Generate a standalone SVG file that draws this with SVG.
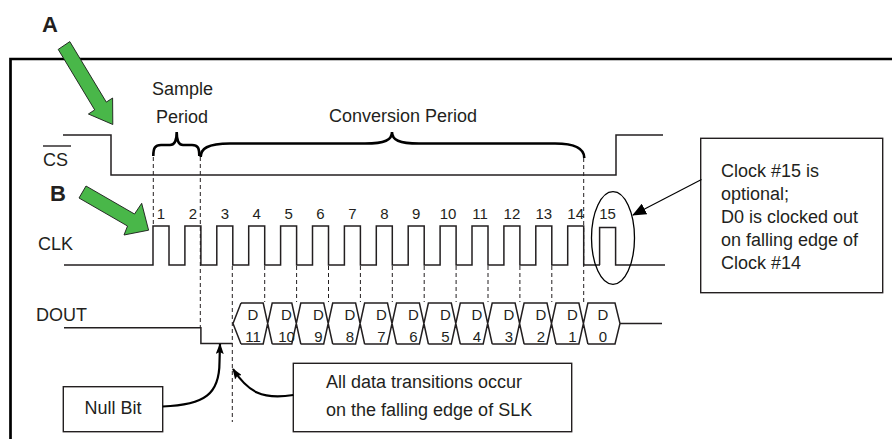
<svg xmlns="http://www.w3.org/2000/svg" width="892" height="439" viewBox="0 0 892 439">
<defs>
<style>
.t{font-family:"Liberation Sans",Arial,sans-serif;fill:#231f20}
.lab{font-size:18px}
.num{font-size:15px;text-anchor:middle}
.cell{font-size:15px;text-anchor:middle}
.big{font-size:22px;font-weight:bold}
.sig{fill:none;stroke:#231f20;stroke-width:1.5}
.dash{fill:none;stroke:#231f20;stroke-width:1;stroke-dasharray:4,3}
.box{fill:#fff;stroke:#231f20;stroke-width:1.4}
.brace{fill:none;stroke:#000;stroke-width:2.6}
.green{fill:#49b749;stroke:#1a1a1a;stroke-width:0.9}
</style>
<marker id="ah" markerUnits="userSpaceOnUse" markerWidth="11" markerHeight="8" refX="10" refY="4" orient="auto">
<path d="M0,0 L11,4 L0,8 L2,4 z" fill="#000"/>
</marker>
<marker id="tri" markerUnits="userSpaceOnUse" markerWidth="14" markerHeight="12" refX="13" refY="6" orient="auto">
<path d="M0,0 L14,6 L0,12 z" fill="#000"/>
</marker>
</defs>
<rect width="892" height="439" fill="#fff"/>

<!-- frame -->
<path d="M10.5,439 V59 H892" fill="none" stroke="#000" stroke-width="2.7"/>

<!-- labels A and B with green arrows -->
<g id="labelA">
<text class="t big" x="42" y="32">A</text>
<polygon class="green" points="58.2,49.4 69.8,41.6 106.3,102.1 112.6,98 112.8,124.5 88.4,114 94.7,109.9"/>
</g>
<g id="labelB">
<text class="t big" x="50" y="201">B</text>
<polygon class="green" points="79,198 86,186 134.5,214 141.7,203.3 148.6,230.2 124,235 127.5,226"/>
</g>

<!-- signal names -->
<g id="cs-label">
<text class="t lab" x="43" y="166">CS</text>
<line x1="43" y1="146" x2="71" y2="146" stroke="#231f20" stroke-width="1.4"/>
</g>
<g id="clk-label"><text class="t lab" x="38" y="250">CLK</text></g>
<g id="dout-label"><text class="t lab" x="36" y="321">DOUT</text></g>

<!-- period annotations -->
<g id="sample-period">
<text class="t lab" x="182.5" y="95" text-anchor="middle">Sample</text>
<text class="t lab" x="182" y="123" text-anchor="middle">Period</text>
<path class="brace" d="M153.3,156 C153.3,148 155,145 161,145 H170 C175,145 176.7,140 176.7,132 C176.7,140 178.5,145 183,145 H192 C198,145 199.3,148 199.3,156"/>
</g>
<g id="conversion-period">
<text class="t lab" x="403" y="122" text-anchor="middle">Conversion Period</text>
<path class="brace" d="M200.7,157 C200.7,149 207,143.5 230,143.5 H365 C385,143.5 392,140 392,132 C392,140 399,143.5 419,143.5 H555 C575,143.5 584.3,149 584.3,158"/>
</g>

<!-- CS waveform -->
<g id="cs-wave">
<path class="sig" d="M63,135 H111 V175 H616 V135 H663"/>
</g>

<!-- CLK waveform -->
<g id="clk-wave">
<path class="sig" d="M64,265 H153 V226 H169 V265 H184.9 V226 H200.9 V265 H216.8 V226 H232.8 V265 H248.7 V226 H264.7 V265 H280.6 V226 H296.6 V265 H312.5 V226 H328.5 V265 H344.4 V226 H360.4 V265 H376.3 V226 H392.3 V265 H408.2 V226 H424.2 V265 H440.1 V226 H456.1 V265 H472 V226 H488 V265 H503.9 V226 H519.9 V265 H535.8 V226 H551.8 V265 H567.7 V226 H583.7 V265 H600"/>
<path class="sig" d="M599.6,265 V227.5 H615.6 V265 H665" stroke="#444"/>
<g class="t num">
<text x="161" y="219">1</text>
<text x="192.9" y="219">2</text>
<text x="224.8" y="219">3</text>
<text x="256.7" y="219">4</text>
<text x="288.6" y="219">5</text>
<text x="320.5" y="219">6</text>
<text x="352.4" y="219">7</text>
<text x="384.3" y="219">8</text>
<text x="416.2" y="219">9</text>
<text x="448.1" y="219">10</text>
<text x="480" y="219">11</text>
<text x="511.9" y="219">12</text>
<text x="543.8" y="219">13</text>
<text x="575.7" y="219">14</text>
<text x="607.6" y="219">15</text>
</g>
</g>

<!-- DOUT waveform -->
<g id="dout-wave">
<path class="sig" d="M64,327.7 H200.9 V343.5 H232.5"/>
<path class="sig" stroke-width="1.2" d="M241,303 L233,323.5 L241,344
 M241,303 H263.2 L272.2,344 M241,344 H263.2 L272.2,303
 H291.8 L300.8,344 M272.2,344 H291.8 L300.8,303
 H323.7 L332.7,344 M300.8,344 H323.7 L332.7,303
 H355.6 L364.6,344 M332.7,344 H355.6 L364.6,303
 H387.5 L396.5,344 M364.6,344 H387.5 L396.5,303
 H419.4 L428.4,344 M396.5,344 H419.4 L428.4,303
 H451.3 L460.3,344 M428.4,344 H451.3 L460.3,303
 H483.2 L492.2,344 M460.3,344 H483.2 L492.2,303
 H515.1 L524.1,344 M492.2,344 H515.1 L524.1,303
 H547 L556,344 M524.1,344 H547 L556,303
 H578.9 L587.9,344 M556,344 H578.9 L587.9,303
 H615 L620,323.5 L615,344 H587.9
 M620,323.5 H662"/>
<g class="t cell">
<text x="253" y="319.5">D</text><text x="253" y="342">11</text>
<text x="286.5" y="319.5">D</text><text x="286.5" y="342">10</text>
<text x="318.5" y="319.5">D</text><text x="318.5" y="342">9</text>
<text x="350" y="319.5">D</text><text x="350" y="342">8</text>
<text x="381.5" y="319.5">D</text><text x="381.5" y="342">7</text>
<text x="413.5" y="319.5">D</text><text x="413.5" y="342">6</text>
<text x="445.5" y="319.5">D</text><text x="445.5" y="342">5</text>
<text x="477" y="319.5">D</text><text x="477" y="342">4</text>
<text x="509" y="319.5">D</text><text x="509" y="342">3</text>
<text x="541" y="319.5">D</text><text x="541" y="342">2</text>
<text x="572.5" y="319.5">D</text><text x="572.5" y="342">1</text>
<text x="603" y="319.5">D</text><text x="603" y="342">0</text>
</g>
</g>

<!-- dashed timing guides -->
<g id="guides" class="dash">
<line x1="153.3" y1="157" x2="153.3" y2="226"/>
<line x1="200.3" y1="157" x2="200.3" y2="327"/>
<line x1="232.3" y1="266" x2="232.3" y2="422"/>
<line x1="264.7" y1="266" x2="264.7" y2="302"/>
<line x1="296.6" y1="266" x2="296.6" y2="302"/>
<line x1="328.5" y1="266" x2="328.5" y2="302"/>
<line x1="360.4" y1="266" x2="360.4" y2="302"/>
<line x1="392.3" y1="266" x2="392.3" y2="302"/>
<line x1="424.2" y1="266" x2="424.2" y2="302"/>
<line x1="456.1" y1="266" x2="456.1" y2="302"/>
<line x1="488" y1="266" x2="488" y2="302"/>
<line x1="519.9" y1="266" x2="519.9" y2="302"/>
<line x1="551.8" y1="266" x2="551.8" y2="302"/>
<line x1="583.7" y1="158" x2="583.7" y2="302"/>
</g>

<!-- ellipse around clock 15 -->
<g id="clock15-mark">
<ellipse cx="613" cy="238" rx="21.5" ry="46.3" fill="none" stroke="#000" stroke-width="1.3"/>
</g>

<!-- callout boxes -->
<g id="callout-clock15">
<rect class="box" x="700.7" y="138.3" width="182" height="154.4"/>
<g class="t lab">
<text x="721" y="177">Clock #15 is</text>
<text x="721" y="200">optional;</text>
<text x="721" y="223">D0 is clocked out</text>
<text x="721" y="246">on falling edge of</text>
<text x="721" y="268.5">Clock #14</text>
</g>
</g>
<g id="callout-null">
<rect class="box" x="63.3" y="386.7" width="99.4" height="45"/>
<text class="t lab" x="113" y="413.5" text-anchor="middle">Null Bit</text>
</g>
<g id="callout-transitions">
<rect class="box" x="293.3" y="363.3" width="278.4" height="68.4"/>
<text class="t lab" x="326" y="387.5">All data transitions occur</text>
<text class="t lab" x="326" y="415.7">on the falling edge of SLK</text>
</g>

<!-- connectors -->
<g id="connectors" fill="none" stroke="#000">
<path d="M701.5,179.5 L633,215" stroke-width="1.1" marker-end="url(#tri)"/>
<path d="M162.7,406.5 C205,405 219.5,394 219.5,362 L220,344" stroke-width="2.2" marker-end="url(#ah)"/>
<path d="M293.3,395 C262,400 248,392 233,369" stroke-width="2.2" marker-end="url(#ah)"/>
</g>
</svg>
